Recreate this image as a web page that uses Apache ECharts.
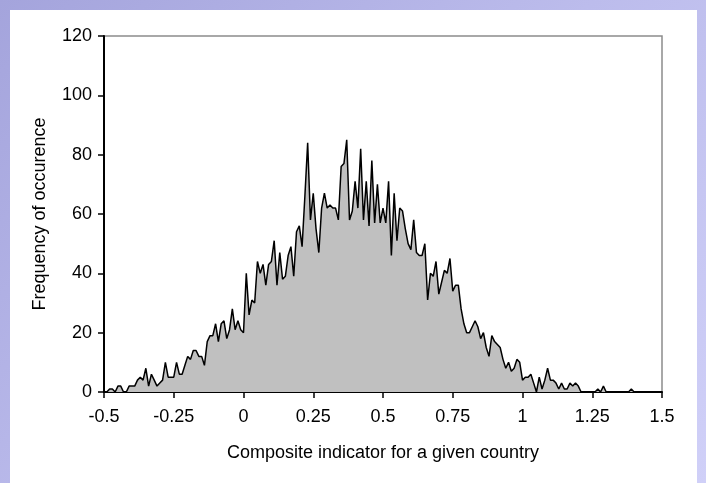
<!DOCTYPE html>
<html>
<head>
<meta charset="utf-8">
<script src="https://cdn.jsdelivr.net/npm/echarts@6/dist/echarts.min.js"></script>
<style>
  html, body { margin: 0; padding: 0; width: 706px; height: 483px; overflow: hidden; }
  body { background: linear-gradient(135deg, #a4a4dc 0%, #bcbcec 50%, #d0d0f8 100%); position: relative; }
  #panel { position: absolute; left: 10px; top: 10px; width: 687px; height: 473px; background: #ffffff; }
  #chart { position: absolute; left: 0; top: 0; width: 706px; height: 483px; }
</style>
</head>
<body>
<div id="panel"></div>
<div id="chart"></div>
<script>
// Histogram of the composite indicator: bins of width 0.01 starting at -0.5
const binStart = -0.5;
const binWidth = 0.01;
const frequency = [
  0, 0, 1, 1, 0, 2, 2, 0, 0, 2,
  2, 2, 4, 5, 4, 8, 2, 6, 4, 2,
  3, 4, 10, 5, 5, 5, 10, 6, 6, 9,
  12, 11, 14, 14, 12, 12, 9, 17, 19, 19,
  23, 17, 23, 24, 18, 21, 28, 21, 24, 21,
  20, 40, 26, 31, 30, 44, 40, 43, 36, 43,
  44, 51, 36, 47, 38, 39, 46, 49, 39, 54,
  56, 49, 66, 84, 58, 67, 55, 47, 62, 67,
  62, 63, 62, 62, 58, 76, 77, 85, 58, 61,
  71, 62, 82, 58, 71, 56, 78, 57, 70, 57,
  62, 57, 71, 46, 67, 51, 62, 61, 55, 50,
  48, 58, 47, 46, 46, 50, 31, 40, 39, 44,
  33, 37, 41, 40, 45, 34, 36, 36, 28, 23,
  20, 20, 22, 24, 22, 18, 20, 15, 12, 19,
  17, 16, 15, 11, 8, 10, 7, 8, 11, 10,
  4, 5, 5, 6, 3, 0, 5, 1, 4, 8,
  4, 4, 3, 1, 3, 1, 1, 3, 2, 3,
  2, 0, 0, 0, 0, 0, 0, 1, 0, 2,
  0, 0, 0, 0, 0, 0, 0, 0, 0, 1,
  0, 0, 0, 0, 0, 0, 0, 0, 0, 0,
  0
];
const xTicks = [-0.5, -0.25, 0, 0.25, 0.5, 0.75, 1, 1.25, 1.5];
const yTicks = [0, 20, 40, 60, 80, 100, 120];
const xTitle = 'Composite indicator for a given country';
const yTitle = 'Frequency of occurence';

const points = frequency.map((v, i) => [+(binStart + i * binWidth).toFixed(2), v]);

const font = '"Liberation Sans", Arial, sans-serif';
const chart = echarts.init(document.getElementById('chart'), null, { renderer: 'canvas' });
chart.setOption({
  backgroundColor: 'transparent',
  animation: false,
  grid: {
    left: 104, right: 44, top: 36, bottom: 91,
    show: true, borderColor: '#8c8c8c', borderWidth: 1.5, backgroundColor: 'transparent'
  },
  xAxis: {
    type: 'value',
    min: xTicks[0], max: xTicks[xTicks.length - 1], interval: xTicks[1] - xTicks[0],
    name: xTitle, nameLocation: 'middle', nameGap: 52,
    nameTextStyle: { color: '#000', fontFamily: font, fontSize: 18 },
    axisLine: { show: true, onZero: false, lineStyle: { color: '#000', width: 2 } },
    axisTick: { show: true, length: 6, lineStyle: { color: '#000', width: 1.5 } },
    axisLabel: { color: '#000', fontFamily: font, fontSize: 18, margin: 16 },
    splitLine: { show: false }
  },
  yAxis: {
    type: 'value',
    min: yTicks[0], max: yTicks[yTicks.length - 1], interval: yTicks[1] - yTicks[0],
    name: yTitle, nameLocation: 'middle', nameGap: 55, nameRotate: 90,
    nameTextStyle: { color: '#000', fontFamily: font, fontSize: 18 },
    axisLine: { show: true, onZero: false, lineStyle: { color: '#000', width: 2 } },
    axisTick: { show: true, length: 6, lineStyle: { color: '#000', width: 1.5 } },
    axisLabel: { color: '#000', fontFamily: font, fontSize: 18, margin: 12 },
    splitLine: { show: false }
  },
  series: [{
    type: 'line',
    data: points,
    showSymbol: false,
    symbol: 'none',
    lineStyle: { color: '#000', width: 1.5 },
    areaStyle: { color: '#c0c0c0', opacity: 1 },
    z: 1
  }]
});
</script>
</body>
</html>
